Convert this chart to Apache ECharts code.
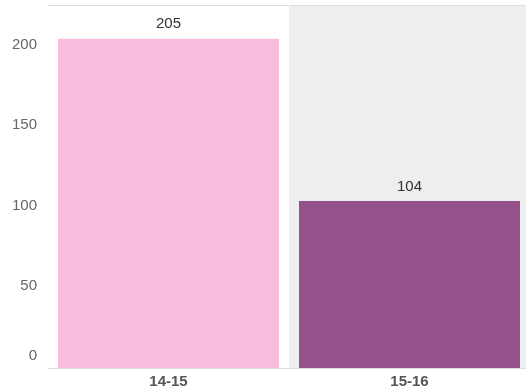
<!DOCTYPE html>
<html>
<head>
<meta charset="utf-8">
<script src="https://cdn.jsdelivr.net/npm/echarts@6/dist/echarts.min.js"></script>
<style>
  html, body { margin: 0; padding: 0; background: #fff; overflow: hidden; width: 526px; height: 392px; }
  #chart { width: 530px; height: 392px; }
</style>
</head>
<body>
<div id="chart"></div>
<script>
// Season categories and their totals
const categories = ['14-15', '15-16'];
const values = [205, 104];
const barColors = ['#f9bcdc', '#955189'];
const yTicks = [0, 50, 100, 150, 200];

const FONT = 'Liberation Sans, Arial, sans-serif';
const chart = echarts.init(document.getElementById('chart'));

chart.setOption({
  animation: false,
  backgroundColor: '#ffffff',
  grid: { left: 48, right: 0, top: 5, bottom: 24, containLabel: false },
  xAxis: [
    {
      type: 'category',
      data: categories,
      position: 'bottom',
      axisLine: { show: true, lineStyle: { color: '#dcdcdc', width: 1 } },
      axisTick: { show: false },
      axisLabel: {
        color: '#555',
        fontFamily: FONT,
        fontSize: 15,
        fontWeight: 'bold',
        margin: 6
      },
      splitArea: { show: true, areaStyle: { color: ['rgba(0,0,0,0)', '#eeeeee'] } }
    },
    {
      // top border line of the plot
      type: 'category',
      data: categories,
      position: 'top',
      axisLine: { show: true, lineStyle: { color: '#dcdcdc', width: 1 } },
      axisTick: { show: false },
      axisLabel: { show: false }
    }
  ],
  yAxis: {
    type: 'value',
    min: 0,
    max: 226,
    interval: 50,
    axisLine: { show: false },
    axisTick: { show: false },
    splitLine: { show: false },
    axisLabel: {
      color: '#666',
      fontFamily: FONT,
      fontSize: 15,
      margin: 11,
      formatter: function (v) {
        if (yTicks.indexOf(v) < 0) return '';
        return v === 0 ? '{zero|0}' : '{n|' + v + '}';
      },
      rich: {
        zero: { padding: [0, 0, 24, 0], color: '#666', fontSize: 15, fontFamily: FONT },
        n: { padding: [0, 0, 4, 0], color: '#666', fontSize: 15, fontFamily: FONT }
      }
    }
  },
  series: [{
    type: 'bar',
    xAxisIndex: 0,
    data: values.map((v, i) => ({ value: v, itemStyle: { color: barColors[i] } })),
    barWidth: '91.7%',
    label: {
      show: true,
      position: 'top',
      distance: 7,
      color: '#333',
      fontFamily: FONT,
      fontSize: 15
    }
  }]
});
</script>
</body>
</html>
